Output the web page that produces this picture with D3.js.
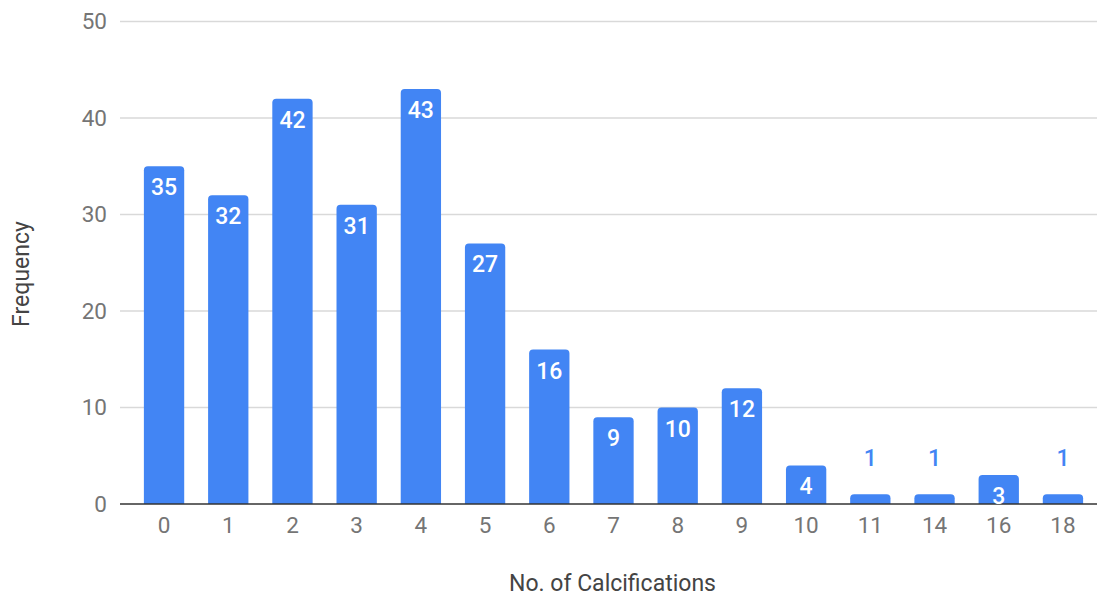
<!DOCTYPE html>
<html><head><meta charset="utf-8">
<script src="https://cdn.jsdelivr.net/npm/d3@7"></script>
<style>body{margin:0;background:#fff}svg{display:block}text{font-family:Roboto,"Noto Sans",sans-serif}</style>
</head><body>
<svg id="c" width="1099" height="599"></svg>
<script>
const categories = ["0","1","2","3","4","5","6","7","8","9","10","11","14","16","18"];
const frequency = [35,32,42,31,43,27,16,9,10,12,4,1,1,3,1];
const yTicks = [0,10,20,30,40,50];
const xTitle = "No. of Calcifications";
const yTitle = "Frequency";

(function(){
const svg = d3.select("#c");
const pLeft = 120, pRight = 1097, pTop = 21.5, pBottom = 504;
const x = d3.scaleBand().domain(categories).range([pLeft, 1107]).paddingInner(0.372).paddingOuter(0.372);
const y = d3.scaleLinear().domain([0,50]).range([pBottom, pTop]);

const grid = svg.append("g");
grid.selectAll("line").data(yTicks.filter(d=>d>0)).join("line")
  .attr("x1", pLeft).attr("x2", pRight)
  .attr("y1", d=>y(d)).attr("y2", d=>y(d))
  .attr("stroke", "#d9d9d9").attr("stroke-width", 1.3);
grid.selectAll("text").data(yTicks).join("text")
  .attr("x", 107).attr("y", d=>y(d)).attr("dy", "0.35em")
  .attr("text-anchor", "end").attr("font-size", 22.5).attr("fill", "#757575")
  .text(d=>d);

const r = 4;
svg.append("g").selectAll("path").data(frequency).join("path")
  .attr("fill", "#4285f4")
  .attr("d", (d,i)=>{
    const x0 = x(categories[i]), w = x.bandwidth(), y0 = y(d), y1 = y(0);
    const rr = Math.min(r, (y1-y0));
    return `M${x0},${y1}V${y0+rr}Q${x0},${y0} ${x0+rr},${y0}H${x0+w-rr}Q${x0+w},${y0} ${x0+w},${y0+rr}V${y1}Z`;
  });

svg.append("line").attr("x1", pLeft).attr("x2", pRight).attr("y1", y(0)).attr("y2", y(0))
  .attr("stroke", "#333").attr("stroke-width", 1.5);

svg.append("g").selectAll("text").data(frequency).join("text")
  .attr("x", (d,i)=>x(categories[i]) + x.bandwidth()/2)
  .attr("y", d=> d >= 3 ? y(d) + 29 : y(d) - 28)
  .attr("text-anchor", "middle").attr("font-size", 23).attr("font-weight", 500)
  .attr("fill", d=> d >= 3 ? "#ffffff" : "#4285f4")
  .text(d=>d);

svg.append("g").selectAll("text").data(categories).join("text")
  .attr("x", d=>x(d) + x.bandwidth()/2).attr("y", 533)
  .attr("text-anchor", "middle").attr("font-size", 22.5).attr("fill", "#757575")
  .text(d=>d);

svg.append("text").attr("x", 612.5).attr("y", 591).attr("text-anchor", "middle")
  .attr("font-size", 23).attr("fill", "#444").text(xTitle);
svg.append("text").attr("transform", "translate(29,274) rotate(-90)").attr("text-anchor", "middle")
  .attr("font-size", 23).attr("fill", "#444").text(yTitle);
})();
</script>
</body></html>
